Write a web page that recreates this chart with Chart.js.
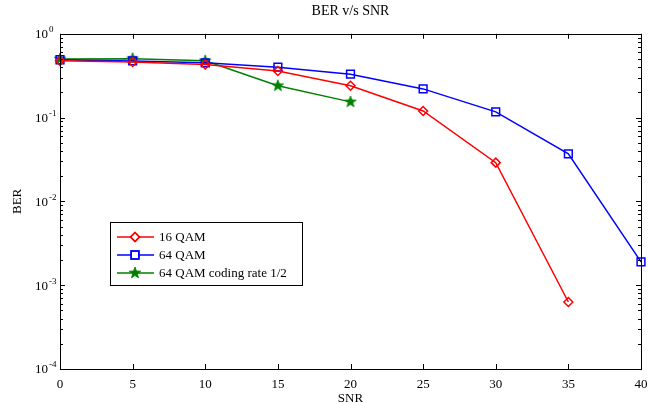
<!DOCTYPE html>
<html>
<head>
<meta charset="utf-8">
<script src="https://cdn.jsdelivr.net/npm/chart.js@4.4.1/dist/chart.umd.min.js"></script>
<style>
  html, body { margin: 0; padding: 0; background: #fff; }
  #wrap { width: 648px; height: 403px; }
</style>
</head>
<body>
<div id="wrap"><canvas id="grafico"></canvas></div>
<script>
// datos
const snr = [0, 5, 10, 15, 20, 25, 30, 35, 40];
const qam16 = [0.476, 0.46, 0.43, 0.36, 0.24, 0.12, 0.029, 0.00063];
const qam64 = [0.49, 0.475, 0.45, 0.40, 0.33, 0.22, 0.117, 0.037, 0.0019];
const qam64coded = [0.50, 0.505, 0.476, 0.24, 0.154];
const nombres = ['16 QAM', '64 QAM', '64 QAM coding rate 1/2'];
const xTicks = [0, 5, 10, 15, 20, 25, 30, 35, 40];
const yDecadas = [-4, -3, -2, -1, 0];

const fuente = '"Liberation Serif", "Times New Roman", serif';

// estrella rellena tipo matlab
function hacerEstrella(color) {
  let c = document.createElement('canvas');
  c.width = 14; c.height = 14;
  let g = c.getContext('2d');
  g.beginPath();
  for (let i = 0; i < 10; i++) {
    let r = i % 2 === 0 ? 6 : 2.5;
    let a = -Math.PI / 2 + i * Math.PI / 5;
    let px = 7 + r * Math.cos(a), py = 7 + r * Math.sin(a);
    if (i === 0) g.moveTo(px, py); else g.lineTo(px, py);
  }
  g.closePath();
  g.fillStyle = color;
  g.fill();
  g.strokeStyle = color;
  g.lineWidth = 0.8;
  g.stroke();
  return c;
}
let estrella = hacerEstrella('#008000');

function puntos(valores) {
  return valores.map((v, i) => ({ x: snr[i], y: v }));
}

// ejes estilo matlab: caja, ticks hacia adentro, etiquetas 10^n
const ejesMatlab = {
  id: 'ejesMatlab',
  afterDraw(chart) {
    const ctx = chart.ctx;
    const a = chart.chartArea;
    const sx = chart.scales.x, sy = chart.scales.y;
    ctx.save();
    ctx.strokeStyle = '#000';
    ctx.lineWidth = 1;
    ctx.beginPath();
    for (let t of xTicks) {
      let px = Math.round(sx.getPixelForValue(t)) + 0.5;
      ctx.moveTo(px, a.bottom); ctx.lineTo(px, a.bottom - 5);
      ctx.moveTo(px, a.top); ctx.lineTo(px, a.top + 5);
    }
    for (let e of yDecadas) {
      let py = Math.round(sy.getPixelForValue(Math.pow(10, e))) + 0.5;
      ctx.moveTo(a.left, py); ctx.lineTo(a.left + 5, py);
      ctx.moveTo(a.right, py); ctx.lineTo(a.right - 5, py);
      if (e < 0) {
        for (let m = 2; m <= 9; m++) {
          let pm = Math.round(sy.getPixelForValue(m * Math.pow(10, e))) + 0.5;
          ctx.moveTo(a.left, pm); ctx.lineTo(a.left + 3, pm);
          ctx.moveTo(a.right, pm); ctx.lineTo(a.right - 3, pm);
        }
      }
    }
    ctx.stroke();
    ctx.strokeRect(Math.round(a.left) + 0.5, Math.round(a.top) + 0.5,
      Math.round(a.right - a.left), Math.round(a.bottom - a.top));

    // etiquetas del eje y
    ctx.fillStyle = '#000';
    ctx.textBaseline = 'middle';
    for (let e of yDecadas) {
      let py = sy.getPixelForValue(Math.pow(10, e));
      ctx.font = '13px ' + fuente;
      ctx.textAlign = 'right';
      ctx.fillText('10', 48, py + 1);
      ctx.font = '9px ' + fuente;
      ctx.textAlign = 'left';
      ctx.fillText(e === 0 ? '0' : '-' + Math.abs(e), 49, py - 4);
    }

    // leyenda
    const lx = 110, ly = 222, lw = 192, lh = 63;
    ctx.fillStyle = '#fff';
    ctx.fillRect(lx, ly, lw, lh);
    ctx.strokeStyle = '#000';
    ctx.strokeRect(lx + 0.5, ly + 0.5, lw, lh);
    chart.data.datasets.forEach((ds, i) => {
      let yy = 237 + i * 18;
      ctx.strokeStyle = ds.borderColor;
      ctx.lineWidth = 1.5;
      ctx.beginPath();
      ctx.moveTo(117, yy); ctx.lineTo(154, yy);
      ctx.stroke();
      if (ds.pointStyle instanceof HTMLCanvasElement) {
        ctx.drawImage(ds.pointStyle, 135 - 7, yy - 7);
      } else {
        ctx.fillStyle = '#fff';
        Chart.helpers.drawPoint(ctx, {
          pointStyle: ds.pointStyle, radius: ds.pointRadius, borderWidth: ds.pointBorderWidth
        }, 135, yy);
        ctx.stroke();
      }
      ctx.fillStyle = '#000';
      ctx.font = '13px ' + fuente;
      ctx.textAlign = 'left';
      ctx.textBaseline = 'middle';
      ctx.fillText(ds.label, 159, yy + 1);
    });
    ctx.restore();
  }
};

new Chart(document.getElementById('grafico'), {
  type: 'line',
  data: {
    datasets: [
      {
        label: nombres[0], data: puntos(qam16),
        borderColor: '#ff0000', backgroundColor: 'rgba(0,0,0,0)',
        borderWidth: 1.5, pointStyle: 'rectRot', pointRadius: 4.5,
        pointBorderColor: '#ff0000', pointBackgroundColor: 'rgba(0,0,0,0)', pointBorderWidth: 1.5,
        clip: false
      },
      {
        label: nombres[1], data: puntos(qam64),
        borderColor: '#0000ff', backgroundColor: 'rgba(0,0,0,0)',
        borderWidth: 1.5, pointStyle: 'rect', pointRadius: 5.5,
        pointBorderColor: '#0000ff', pointBackgroundColor: 'rgba(0,0,0,0)', pointBorderWidth: 1.5,
        clip: false
      },
      {
        label: nombres[2], data: puntos(qam64coded),
        borderColor: '#008000', backgroundColor: 'rgba(0,0,0,0)',
        borderWidth: 1.5, pointStyle: estrella, pointRadius: 6,
        pointBorderColor: '#008000', pointBackgroundColor: '#008000', pointBorderWidth: 1,
        clip: false
      }
    ]
  },
  options: {
    responsive: true,
    maintainAspectRatio: false,
    animation: false,
    layout: { padding: { left: 0, right: 4, top: 0, bottom: 0 } },
    plugins: {
      legend: { display: false },
      tooltip: { enabled: false },
      title: {
        display: true, text: 'BER v/s SNR', color: '#000', fullSize: false,
        font: { family: fuente, size: 14, weight: 'normal' },
        padding: { top: 3, bottom: 14 }
      }
    },
    scales: {
      x: {
        type: 'linear', min: 0, max: 40,
        grid: { display: false },
        border: { display: false },
        ticks: {
          stepSize: 5, color: '#000', padding: 0, maxRotation: 0,
          font: { family: fuente, size: 13 }
        },
        title: {
          display: true, text: 'SNR', color: '#000',
          font: { family: fuente, size: 13 }, padding: { top: 0, bottom: -3 }
        },
        afterFit(s) { s.height = 34; }
      },
      y: {
        type: 'logarithmic', min: 0.0001, max: 1,
        grid: { display: false },
        border: { display: false },
        ticks: { display: false },
        title: {
          display: true, text: 'BER', color: '#000',
          font: { family: fuente, size: 13 }, padding: { top: 10, bottom: 0 }
        },
        afterFit(s) { s.width = 60; }
      }
    }
  },
  plugins: [ejesMatlab]
});
</script>
</body>
</html>
